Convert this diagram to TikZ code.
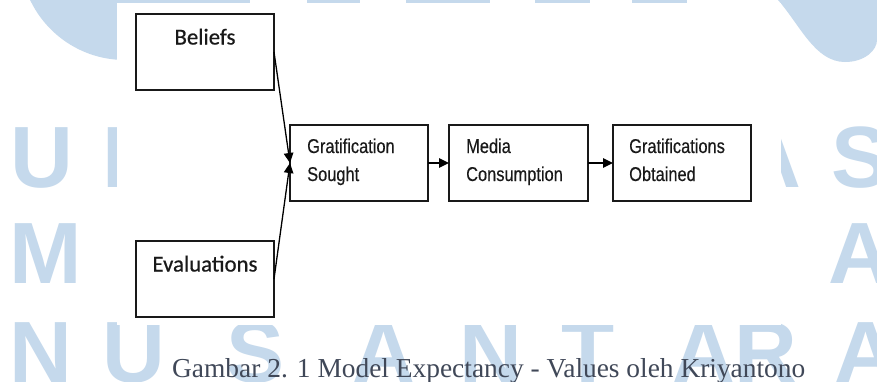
\documentclass[tikz,border=0pt]{standalone}
\usepackage{fontspec}
\setmainfont{Liberation Serif}
\newfontfamily\calibfont[FakeBold=0.6]{Carlito}
\newfontfamily\narrowfont[FakeStretch=0.82,FakeBold=0.3]{Liberation Sans}
\newfontfamily\wmfont{Liberation Sans}
\usetikzlibrary{arrows.meta}
\definecolor{wm}{RGB}{197,217,236}
\definecolor{capcol}{RGB}{64,72,88}
\definecolor{ink}{RGB}{25,25,25}
\begin{document}
\begin{tikzpicture}[x=1pt,y=-1pt,
  box/.style={draw=ink,line width=1.2pt,minimum width=138pt,minimum height=76pt,inner sep=0pt,outer sep=0pt},
  arr/.style={draw=black,line width=1.3pt,-{Triangle[length=10pt,width=9.5pt]}},
  ltxt/.style={anchor=base,inner sep=0pt,text=ink,font=\calibfont\fontsize{22.8}{26}\selectfont},
  rtxt/.style={anchor=base west,inner sep=0pt,text=ink,font=\narrowfont\fontsize{20}{24}\selectfont},
  wmtxt/.style={anchor=base west,inner sep=0pt,text=wm,font=\wmfont\bfseries\fontsize{87}{87}\selectfont}]
\useasboundingbox (0,0) rectangle (877,381);
\clip (0,0) rectangle (877,381);
\fill[white] (0,0) rectangle (877,381);
% watermark
\fill[wm] (125,-45) circle (105);
\fill[wm] (778,0) .. controls (800,25) and (815,62) .. (845,62) .. controls (865,62) and (877,50) .. (877,40) -- (877,0) -- cycle;
\foreach \a/\b in {182/250,307/360,406/490,535/590,632/687}{\fill[wm] (\a,0) rectangle (\b,2.5);}
\node[wmtxt] (w1) at (10,187) {U};
\node[wmtxt] (w2) at (102,187) {I};
\node[wmtxt] (w3) at (738,187) {A};
\node[wmtxt] (w4) at (831,187) {S};
\node[wmtxt] (w5) at (9,283) {M};
\node[wmtxt] (w6) at (828,283) {A};
\node[wmtxt] (w7) at (9,382) {N};
\node[wmtxt] (w8) at (102,382) {U};
\node[wmtxt] (w9) at (226,382) {S};
\node[wmtxt] (w10) at (352,382) {A};
\node[wmtxt] (w11) at (459,382) {N};
\node[wmtxt] (w12) at (561,382) {T};
\node[wmtxt] (w13) at (672,382) {A};
\node[wmtxt] (w14) at (734,382) {R};
\node[wmtxt] (w15) at (834,382) {A};
\fill[white] (117,2.5) rectangle (781,325);
% diagram
\node[box] (B) at (205,52) {};
\node[box] (E) at (205,279) {};
\node[box] (GS) at (359,163) {};
\node[box,minimum width=139pt] (MC) at (518.5,163) {};
\node[box] (GO) at (682,163) {};
\node[ltxt] (Bt) at (205,44.5) {Beliefs};
\node[ltxt] (Et) at (205,271.5) {Evaluations};
\node[rtxt] (GSa) at (307,153) {Gratification};
\node[rtxt] (GSb) at (307,181) {Sought};
\node[rtxt] (MCa) at (466,153) {Media};
\node[rtxt] (MCb) at (466,181) {Consumption};
\node[rtxt] (GOa) at (629,153) {Gratifications};
\node[rtxt] (GOb) at (629,181) {Obtained};
\draw[arr] (B.east) -- (GS.west);
\draw[arr] (E.east) -- (GS.west);
\draw[arr] (GS.east) -- (MC.west);
\draw[arr] (MC.east) -- (GO.west);
% caption
\node[anchor=base west,inner sep=0pt,text=capcol,font=\fontsize{27.4}{28}\selectfont] (cap) at (172,377) {Gambar 2. 1 Model Expectancy - Values oleh Kriyantono};
\end{tikzpicture}
\end{document}
